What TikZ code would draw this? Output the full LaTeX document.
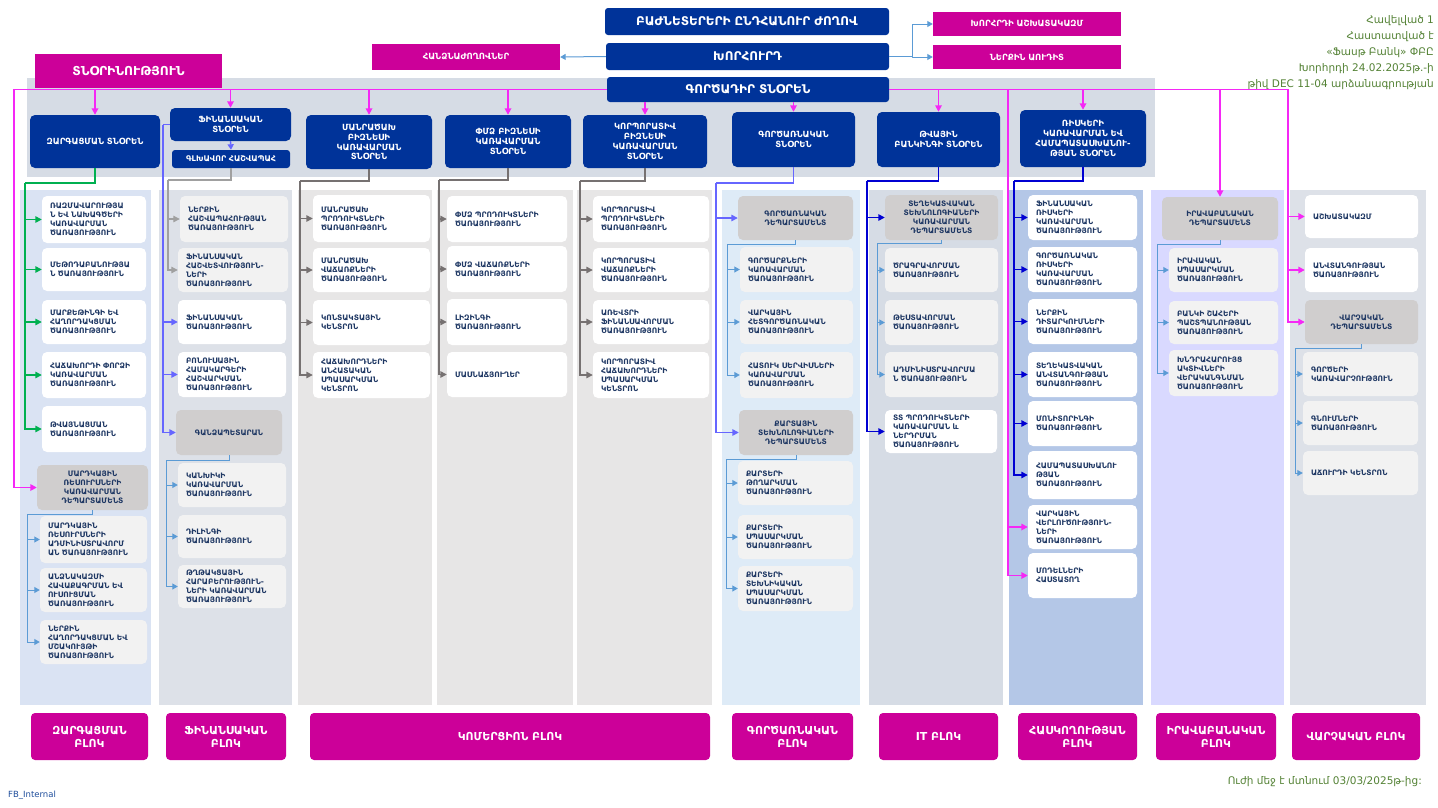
\documentclass[tikz,border=0pt]{standalone}
\usepackage{fontspec}
\setmainfont{DejaVu Sans}
\usetikzlibrary{arrows.meta}
\definecolor{navy}{RGB}{0,51,153}
\definecolor{mag}{RGB}{204,0,153}
\definecolor{mlinec}{RGB}{245,40,245}
\definecolor{glinec}{RGB}{0,176,80}
\definecolor{vlinec}{RGB}{102,102,255}
\definecolor{dblinec}{RGB}{0,0,210}
\definecolor{lblinec}{RGB}{91,155,213}
\definecolor{grlinec}{RGB}{118,113,113}
\definecolor{ltgrlinec}{RGB}{160,160,160}
\definecolor{txt}{RGB}{31,56,100}
\definecolor{deptfill}{RGB}{208,206,206}
\definecolor{lgfill}{RGB}{242,242,242}
\definecolor{band}{RGB}{214,220,229}
\definecolor{cbgA}{RGB}{218,227,243}
\definecolor{cbgB}{RGB}{221,225,232}
\definecolor{cbgC}{RGB}{231,230,230}
\definecolor{cbgD}{RGB}{222,235,247}
\definecolor{cbgE}{RGB}{214,220,229}
\definecolor{cbgF}{RGB}{180,199,231}
\definecolor{cbgG}{RGB}{217,217,255}
\definecolor{gtext}{RGB}{84,130,53}
\definecolor{fbblue}{RGB}{31,78,156}
\newcommand{\mkbox}[7][]{%
  \pgfmathsetmacro{\mkw}{#5-#3}%
  \pgfmathsetmacro{\mkh}{#6-#4}%
  \pgfmathsetmacro{\mktw}{#5-#3-16}%
  \node[#1, inner sep=0pt, minimum width=\mkw pt, minimum height=\mkh pt, text width=\mktw pt] (#2) at ({(#3+#5)/2},{(#4+#6)/2}) {#7};}
\tikzset{
  topbox/.style={fill=navy, rounded corners=3pt, text=white, align=center, font=\bfseries\fontsize{12}{14}\selectfont},
  magsm/.style={fill=mag, text=white, align=center, font=\bfseries\fontsize{8.5}{10}\selectfont},
  magbig/.style={fill=mag, text=white, align=center, font=\bfseries\fontsize{12.3}{14}\selectfont},
  dirbox/.style={fill=navy, rounded corners=5pt, text=white, align=center, font=\bfseries\fontsize{8.5}{9.8}\selectfont},
  subw/.style={fill=white, rounded corners=5pt, text=txt, align=left, font=\bfseries\fontsize{7.5}{9}\selectfont},
  subg/.style={subw, fill=lgfill},
  deptbox/.style={fill=deptfill, rounded corners=5pt, text=txt, align=center, font=\bfseries\fontsize{7.5}{9}\selectfont},
  blockbox/.style={fill=mag, rounded corners=4pt, text=white, align=center, font=\bfseries\fontsize{11}{13}\selectfont},
  tipbig/.style={-{Triangle[length=6.5pt,width=6.5pt]}},
  tipsm/.style={-{Triangle[length=5.5pt,width=6pt]}},
  lnmag/.style={draw=mlinec, line width=1.6pt},
  lngreen/.style={draw=glinec, line width=1.4pt},
  lnviolet/.style={draw=vlinec, line width=1.4pt},
  lndb/.style={draw=dblinec, line width=1.4pt},
  lnlb/.style={draw=lblinec, line width=1pt},
  lngray/.style={draw=grlinec, line width=1.4pt},
  lnltgray/.style={draw=ltgrlinec, line width=1.2pt},
}
\begin{document}
\begin{tikzpicture}[x=1pt,y=-1pt]
\useasboundingbox (0,0) rectangle (1438,807);
\fill[white] (0,0) rectangle (1438,807);
% backgrounds
\fill[band] (27,78) rectangle (1155,177);
\fill[cbgA] (20,190) rectangle (151,705);
\fill[cbgB] (159,190) rectangle (292,705);
\fill[cbgC] (298,190) rectangle (432,705);
\fill[cbgC] (437,190) rectangle (573,705);
\fill[cbgC] (577,190) rectangle (712,705);
\fill[cbgD] (722,190) rectangle (860,705);
\fill[cbgE] (869,190) rectangle (1003,705);
\fill[cbgF] (1009,190) rectangle (1143,705);
\fill[cbgG] (1151,190) rectangle (1284,705);
\fill[cbgB] (1290,190) rectangle (1426,705);

% top
\mkbox[topbox]{agm}{605}{8}{889}{35}{ԲԱԺՆԵՏԵՐԵՐԻ ԸՆԴՀԱՆՈՒՐ ԺՈՂՈՎ}
\mkbox[topbox]{board}{606}{43}{889}{70}{ԽՈՐՀՈՒՐԴ}
\mkbox[topbox]{ceo}{607}{77}{889}{102}{ԳՈՐԾԱԴԻՐ ՏՆՕՐԵՆ}
\mkbox[magsm]{comm}{372}{44}{560}{70}{ՀԱՆՁՆԱԺՈՂՈՎՆԵՐ}
\mkbox[magsm]{bstaff}{933}{12}{1121}{36}{ԽՈՐՀՐԴԻ ԱՇԽԱՏԱԿԱԶՄ}
\mkbox[magsm]{audit}{933}{45}{1121}{69}{ՆԵՐՔԻՆ ԱՈՒԴԻՏ}
\mkbox[magbig]{mgmt}{35}{54}{222}{88}{ՏՆՕՐԻՆՈՒԹՅՈՒՆ}

\node[anchor=north east, align=right, text=gtext, inner sep=0pt, font=\fontsize{10.5}{16}\selectfont] (approval) at (1434,15)
 {Հավելված 1\\Հաստատված է\\«Ֆասթ Բանկ» ՓԲԸ\\Խորհրդի 24.02.2025թ.-ի\\թիվ DEC 11-04 արձանագրության};
\node[anchor=east, text=gtext, inner sep=0pt, font=\fontsize{10.5}{12}\selectfont] (effective) at (1422,782) {Ուժի մեջ է մտնում 03/03/2025թ-ից:};
\node[anchor=west, text=fbblue, inner sep=0pt, font=\fontsize{8.5}{10}\selectfont] (fbint) at (8,795) {FB\_Internal};

% directorates
\mkbox[dirbox]{zdir}{30}{115}{160}{168}{ԶԱՐԳԱՑՄԱՆ ՏՆՕՐԵՆ}
\mkbox[dirbox]{fdir}{170}{108}{291}{141}{ՖԻՆԱՆՍԱԿԱՆ\\ՏՆՕՐԵՆ}
\mkbox[dirbox, rounded corners=3pt, font=\bfseries\fontsize{7.8}{9}\selectfont]{chacc}{172}{150}{290}{168}{ԳԼԽԱՎՈՐ ՀԱՇՎԱՊԱՀ}
\mkbox[dirbox]{rdir}{306}{115}{432}{169}{ՄԱՆՐԱԾԱԽ\\ԲԻԶՆԵՍԻ\\ԿԱՌԱՎԱՐՄԱՆ\\ՏՆՕՐԵՆ}
\mkbox[dirbox]{sdir}{445}{115}{571}{168}{ՓՄՁ ԲԻԶՆԵՍԻ\\ԿԱՌԱՎԱՐՄԱՆ\\ՏՆՕՐԵՆ}
\mkbox[dirbox]{cdir}{583}{115}{707}{168}{ԿՈՐՊՈՐԱՏԻՎ\\ԲԻԶՆԵՍԻ\\ԿԱՌԱՎԱՐՄԱՆ\\ՏՆՕՐԵՆ}
\mkbox[dirbox]{odir}{732}{112}{855}{167}{ԳՈՐԾԱՌՆԱԿԱՆ\\ՏՆՕՐԵՆ}
\mkbox[dirbox]{ddir}{877}{112}{1000}{167}{ԹՎԱՅԻՆ\\ԲԱՆԿԻՆԳԻ ՏՆՕՐԵՆ}
\mkbox[dirbox]{kdir}{1020}{110}{1146}{167}{ՌԻՍԿԵՐԻ\\ԿԱՌԱՎԱՐՄԱՆ ԵՎ\\ՀԱՄԱՊԱՏԱՍԽԱՆՈՒ-\\ԹՅԱՆ ՏՆՕՐԵՆ}

% column 1
\mkbox[subw]{z1}{42}{196}{146}{243}{ՌԱԶՄԱՎԱՐՈՒԹՅԱ\\Ն ԵՎ ՆԱԽԱԳԾԵՐԻ\\ԿԱՌԱՎԱՐՄԱՆ\\ԾԱՌԱՅՈՒԹՅՈՒՆ}
\mkbox[subw]{z2}{42}{248}{146}{291}{ՄԵԹՈԴԱԲԱՆՈՒԹՅԱ\\Ն ԾԱՌԱՅՈՒԹՅՈՒՆ}
\mkbox[subw]{z3}{42}{300}{146}{344}{ՄԱՐՔԵԹԻՆԳԻ ԵՎ\\ՀԱՂՈՐԴԱԿՑՄԱՆ\\ԾԱՌԱՅՈՒԹՅՈՒՆ}
\mkbox[subw]{z4}{42}{352}{146}{398}{ՀԱՃԱԽՈՐԴԻ ՓՈՐՁԻ\\ԿԱՌԱՎԱՐՄԱՆ\\ԾԱՌԱՅՈՒԹՅՈՒՆ}
\mkbox[subw]{z5}{42}{406}{146}{452}{ԹՎԱՅՆԱՑՄԱՆ\\ԾԱՌԱՅՈՒԹՅՈՒՆ}
\mkbox[deptbox]{hrd}{37}{465}{148}{510}{ՄԱՐԴԿԱՅԻՆ\\ՌԵՍՈՒՐՍՆԵՐԻ\\ԿԱՌԱՎԱՐՄԱՆ\\ԴԵՊԱՐՏԱՄԵՆՏ}
\mkbox[subg]{h1}{40}{516}{147}{563}{ՄԱՐԴԿԱՅԻՆ\\ՌԵՍՈՒՐՍՆԵՐԻ\\ԱԴՄԻՆԻՍՏՐԱՎՈՐՄ\\ԱՆ ԾԱՌԱՅՈՒԹՅՈՒՆ}
\mkbox[subg]{h2}{40}{568}{147}{612}{ԱՆՁՆԱԿԱԶՄԻ\\ՀԱՎԱՔԱԳՐՄԱՆ ԵՎ\\ՈՒՍՈՒՑՄԱՆ\\ԾԱՌԱՅՈՒԹՅՈՒՆ}
\mkbox[subg]{h3}{40}{620}{147}{664}{ՆԵՐՔԻՆ\\ՀԱՂՈՐԴԱԿՑՄԱՆ ԵՎ\\ՄՇԱԿՈՒՅԹԻ\\ԾԱՌԱՅՈՒԹՅՈՒՆ}

% column 2
\mkbox[subg]{f1}{180}{196}{288}{242}{ՆԵՐՔԻՆ\\ՀԱՇՎԱՊԱՀՈՒԹՅԱՆ\\ԾԱՌԱՅՈՒԹՅՈՒՆ}
\mkbox[subg]{f2}{178}{248}{288}{292}{ՖԻՆԱՆՍԱԿԱՆ\\ՀԱՇՎԵՏՎՈՒԹՅՈՒՆ-\\ՆԵՐԻ\\ԾԱՌԱՅՈՒԹՅՈՒՆ}
\mkbox[subw]{f3}{178}{300}{286}{344}{ՖԻՆԱՆՍԱԿԱՆ\\ԾԱՌԱՅՈՒԹՅՈՒՆ}
\mkbox[subw]{f4}{178}{352}{286}{397}{ԲՈՆՈՒՍԱՅԻՆ\\ՀԱՄԱԿԱՐԳԵՐԻ\\ՀԱՇՎԱՐԿՄԱՆ\\ԾԱՌԱՅՈՒԹՅՈՒՆ}
\mkbox[deptbox]{treas}{176}{410}{282}{455}{ԳԱՆՁԱՊԵՏԱՐԱՆ}
\mkbox[subg]{t1}{178}{463}{286}{507}{ԿԱՆԽԻԿԻ\\ԿԱՌԱՎԱՐՄԱՆ\\ԾԱՌԱՅՈՒԹՅՈՒՆ}
\mkbox[subg]{t2}{178}{515}{286}{558}{ԴԻԼԻՆԳԻ\\ԾԱՌԱՅՈՒԹՅՈՒՆ}
\mkbox[subg]{t3}{178}{565}{286}{608}{ԹՂԹԱԿՑԱՅԻՆ\\ՀԱՐԱԲԵՐՈՒԹՅՈՒՆ-\\ՆԵՐԻ ԿԱՌԱՎԱՐՄԱՆ\\ԾԱՌԱՅՈՒԹՅՈՒՆ}

% column 3
\mkbox[subw]{r1}{313}{195}{430}{242}{ՄԱՆՐԱԾԱԽ\\ՊՐՈԴՈՒԿՏՆԵՐԻ\\ԾԱՌԱՅՈՒԹՅՈՒՆ}
\mkbox[subw]{r2}{313}{248}{430}{292}{ՄԱՆՐԱԾԱԽ\\ՎԱՃԱՌՔՆԵՐԻ\\ԾԱՌԱՅՈՒԹՅՈՒՆ}
\mkbox[subw]{r3}{313}{300}{430}{345}{ԿՈՆՏԱԿՏԱՅԻՆ\\ԿԵՆՏՐՈՆ}
\mkbox[subw]{r4}{313}{352}{430}{398}{ՀԱՃԱԽՈՐԴՆԵՐԻ\\ԱՆՀԱՏԱԿԱՆ\\ՍՊԱՍԱՐԿՄԱՆ\\ԿԵՆՏՐՈՆ}

% column 4
\mkbox[subw]{s1}{447}{196}{567}{242}{ՓՄՁ ՊՐՈԴՈՒԿՏՆԵՐԻ\\ԾԱՌԱՅՈՒԹՅՈՒՆ}
\mkbox[subw]{s2}{447}{246}{567}{292}{ՓՄՁ ՎԱՃԱՌՔՆԵՐԻ\\ԾԱՌԱՅՈՒԹՅՈՒՆ}
\mkbox[subw]{s3}{447}{299}{567}{345}{ԼԻԶԻՆԳԻ\\ԾԱՌԱՅՈՒԹՅՈՒՆ}
\mkbox[subw]{s4}{447}{352}{567}{397}{ՄԱՍՆԱՃՅՈՒՂԵՐ}

% column 5
\mkbox[subw]{c1}{593}{196}{709}{242}{ԿՈՐՊՈՐԱՏԻՎ\\ՊՐՈԴՈՒԿՏՆԵՐԻ\\ԾԱՌԱՅՈՒԹՅՈՒՆ}
\mkbox[subw]{c2}{593}{248}{709}{292}{ԿՈՐՊՈՐԱՏԻՎ\\ՎԱՃԱՌՔՆԵՐԻ\\ԾԱՌԱՅՈՒԹՅՈՒՆ}
\mkbox[subw]{c3}{593}{300}{709}{344}{ԱՌԵՎՏՐԻ\\ՖԻՆԱՆՍԱՎՈՐՄԱՆ\\ԾԱՌԱՅՈՒԹՅՈՒՆ}
\mkbox[subw]{c4}{593}{352}{709}{398}{ԿՈՐՊՈՐԱՏԻՎ\\ՀԱՃԱԽՈՐԴՆԵՐԻ\\ՍՊԱՍԱՐԿՄԱՆ\\ԿԵՆՏՐՈՆ}

% column 6
\mkbox[deptbox]{opd}{738}{196}{853}{240}{ԳՈՐԾԱՌՆԱԿԱՆ\\ԴԵՊԱՐՏԱՄԵՆՏ}
\mkbox[subg]{o1}{740}{247}{853}{292}{ԳՈՐԾԱՐՔՆԵՐԻ\\ԿԱՌԱՎԱՐՄԱՆ\\ԾԱՌԱՅՈՒԹՅՈՒՆ}
\mkbox[subg]{o2}{740}{300}{853}{344}{ՎԱՐԿԱՅԻՆ\\ՀԵՏԳՈՐԾԱՌՆԱԿԱՆ\\ԾԱՌԱՅՈՒԹՅՈՒՆ}
\mkbox[subg]{o3}{740}{352}{853}{398}{ՀԱՏՈՒԿ ՍԵՐՎԻՍՆԵՐԻ\\ԿԱՌԱՎԱՐՄԱՆ\\ԾԱՌԱՅՈՒԹՅՈՒՆ}
\mkbox[deptbox]{card}{739}{410}{853}{455}{ՔԱՐՏԱՅԻՆ\\ՏԵԽՆՈԼՈԳԻԱՆԵՐԻ\\ԴԵՊԱՐՏԱՄԵՆՏ}
\mkbox[subg]{k1}{738}{461}{853}{505}{ՔԱՐՏԵՐԻ\\ԹՈՂԱՐԿՄԱՆ\\ԾԱՌԱՅՈՒԹՅՈՒՆ}
\mkbox[subg]{k2}{738}{515}{853}{559}{ՔԱՐՏԵՐԻ\\ՍՊԱՍԱՐԿՄԱՆ\\ԾԱՌԱՅՈՒԹՅՈՒՆ}
\mkbox[subg]{k3}{738}{566}{853}{611}{ՔԱՐՏԵՐԻ\\ՏԵԽՆԻԿԱԿԱՆ\\ՍՊԱՍԱՐԿՄԱՆ\\ԾԱՌԱՅՈՒԹՅՈՒՆ}

% column 7
\mkbox[deptbox]{itd}{885}{195}{998}{240}{ՏԵՂԵԿԱՏՎԱԿԱՆ\\ՏԵԽՆՈԼՈԳԻԱՆԵՐԻ\\ԿԱՌԱՎԱՐՄԱՆ\\ԴԵՊԱՐՏԱՄԵՆՏ}
\mkbox[subg]{i1}{885}{248}{998}{292}{ԾՐԱԳՐԱՎՈՐՄԱՆ\\ԾԱՌԱՅՈՒԹՅՈՒՆ}
\mkbox[subg]{i2}{885}{300}{998}{345}{ԹԵՍՏԱՎՈՐՄԱՆ\\ԾԱՌԱՅՈՒԹՅՈՒՆ}
\mkbox[subg]{i3}{885}{352}{998}{397}{ԱԴՄԻՆԻՍՏՐԱՎՈՐՄԱ\\Ն ԾԱՌԱՅՈՒԹՅՈՒՆ}
\mkbox[subw]{itp}{885}{410}{997}{453}{ՏՏ ՊՐՈԴՈՒԿՏՆԵՐԻ\\ԿԱՌԱՎԱՐՄԱՆ և\\ՆԵՐԴՐՄԱՆ\\ԾԱՌԱՅՈՒԹՅՈՒՆ}

% column 8
\mkbox[subw]{q1}{1028}{195}{1137}{240}{ՖԻՆԱՆՍԱԿԱՆ\\ՌԻՍԿԵՐԻ\\ԿԱՌԱՎԱՐՄԱՆ\\ԾԱՌԱՅՈՒԹՅՈՒՆ}
\mkbox[subw]{q2}{1028}{247}{1137}{292}{ԳՈՐԾԱՌՆԱԿԱՆ\\ՌԻՍԿԵՐԻ\\ԿԱՌԱՎԱՐՄԱՆ\\ԾԱՌԱՅՈՒԹՅՈՒՆ}
\mkbox[subw]{q3}{1028}{299}{1137}{344}{ՆԵՐՔԻՆ\\ԴԻՏԱՐԿՈՒՄՆԵՐԻ\\ԾԱՌԱՅՈՒԹՅՈՒՆ}
\mkbox[subw]{q4}{1028}{352}{1137}{397}{ՏԵՂԵԿԱՏՎԱԿԱՆ\\ԱՆՎՏԱՆԳՈՒԹՅԱՆ\\ԾԱՌԱՅՈՒԹՅՈՒՆ}
\mkbox[subw]{q5}{1028}{401}{1137}{446}{ՄՈՆԻՏՈՐԻՆԳԻ\\ԾԱՌԱՅՈՒԹՅՈՒՆ}
\mkbox[subw]{q6}{1028}{451}{1137}{499}{ՀԱՄԱՊԱՏԱՍԽԱՆՈՒ\\ԹՅԱՆ\\ԾԱՌԱՅՈՒԹՅՈՒՆ}
\mkbox[subw]{crd}{1028}{505}{1137}{549}{ՎԱՐԿԱՅԻՆ\\ՎԵՐԼՈՒԾՈՒԹՅՈՒՆ-\\ՆԵՐԻ\\ԾԱՌԱՅՈՒԹՅՈՒՆ}
\mkbox[subw]{mod}{1028}{553}{1137}{598}{ՄՈԴԵԼՆԵՐԻ\\ՀԱՍՏԱՏՈՂ}

% column 9
\mkbox[deptbox]{legal}{1162}{197}{1278}{240}{ԻՐԱՎԱԲԱՆԱԿԱՆ\\ԴԵՊԱՐՏԱՄԵՆՏ}
\mkbox[subg]{l1}{1169}{248}{1278}{292}{ԻՐԱՎԱԿԱՆ\\ՍՊԱՍԱՐԿՄԱՆ\\ԾԱՌԱՅՈՒԹՅՈՒՆ}
\mkbox[subg]{l2}{1169}{301}{1278}{344}{ԲԱՆԿԻ ՇԱՀԵՐԻ\\ՊԱՇՏՊԱՆՈՒԹՅԱՆ\\ԾԱՌԱՅՈՒԹՅՈՒՆ}
\mkbox[subg]{l3}{1169}{350}{1278}{396}{ԽՆԴՐԱՀԱՐՈՒՅՑ\\ԱԿՏԻՎՆԵՐԻ\\ՎԵՐԱԿԱՆԳՆՄԱՆ\\ԾԱՌԱՅՈՒԹՅՈՒՆ}

% column 10
\mkbox[subw]{ash}{1305}{195}{1418}{238}{ԱՇԽԱՏԱԿԱԶՄ}
\mkbox[subw]{sec}{1305}{248}{1418}{292}{ԱՆՎՏԱՆԳՈՒԹՅԱՆ\\ԾԱՌԱՅՈՒԹՅՈՒՆ}
\mkbox[deptbox]{adm}{1305}{300}{1418}{344}{ՎԱՐՉԱԿԱՆ\\ԴԵՊԱՐՏԱՄԵՆՏ}
\mkbox[subg]{v1}{1303}{352}{1418}{396}{ԳՈՐԾԵՐԻ\\ԿԱՌԱՎԱՐՉՈՒԹՅՈՒՆ}
\mkbox[subg]{v2}{1303}{401}{1418}{445}{ԳՆՈՒՄՆԵՐԻ\\ԾԱՌԱՅՈՒԹՅՈՒՆ}
\mkbox[subg]{v3}{1303}{451}{1418}{495}{ԱՃՈՒՐԴԻ ԿԵՆՏՐՈՆ}

% bottom blocks
\mkbox[blockbox]{bk1}{31}{713}{148}{760}{ԶԱՐԳԱՑՄԱՆ\\ԲԼՈԿ}
\mkbox[blockbox]{bk2}{166}{713}{286}{760}{ՖԻՆԱՆՍԱԿԱՆ\\ԲԼՈԿ}
\mkbox[blockbox]{bk3}{310}{713}{710}{760}{ԿՈՄԵՐՑԻՈՆ ԲԼՈԿ}
\mkbox[blockbox]{bk4}{732}{713}{853}{760}{ԳՈՐԾԱՌՆԱԿԱՆ\\ԲԼՈԿ}
\mkbox[blockbox]{bk5}{879}{713}{998}{760}{IT ԲԼՈԿ}
\mkbox[blockbox]{bk6}{1018}{713}{1137}{760}{ՀԱՍԿՈՂՈՒԹՅԱՆ\\ԲԼՈԿ}
\mkbox[blockbox]{bk7}{1156}{713}{1276}{760}{ԻՐԱՎԱԲԱՆԱԿԱՆ\\ԲԼՈԿ}
\mkbox[blockbox]{bk8}{1292}{713}{1420}{760}{ՎԱՐՉԱԿԱՆ ԲԼՈԿ}

% ---- connectors ----
% board
\draw[lnlb,tipsm] (board.west) -- (comm.east);
\coordinate (bj) at (912,56.5);
\draw[lnlb] (board.east) -- (bj);
\draw[lnlb,tipsm] (bj) |- (bstaff.west);
\draw[lnlb,tipsm] (bj) |- (audit.west);

% CEO magenta
\coordinate (mL) at (14,0);
\coordinate (mR) at (1288,0);
\coordinate (mM) at (1008,0);
\draw[lnmag,tipbig] (ceo.west) -- (mL |- ceo.west) |- (hrd.west);
\draw[lnmag,tipbig] (ceo.east) -- (mR |- ceo.east) |- (adm.west);
\draw[lnmag,tipbig] (mR |- ash.west) -- (ash.west);
\draw[lnmag,tipbig] (mR |- sec.west) -- (sec.west);
\draw[lnmag,tipbig] (mM |- ceo.east) |- (mod.west);
\draw[lnmag,tipbig] (mM |- crd.west) -- (crd.west);
\foreach \n in {zdir,fdir,rdir,sdir} \draw[lnmag,tipbig] (ceo.west -| \n.north) -- (\n.north);
\foreach \n in {cdir,odir} \draw[lnmag,tipbig] (ceo.south -| \n.north) -- (\n.north);
\foreach \n in {ddir,kdir,legal} \draw[lnmag,tipbig] (ceo.east -| \n.north) -- (\n.north);

% column 1
\coordinate (bA) at (25,183);
\draw[lngreen] (zdir.south) |- (bA);
\draw[lngreen,tipbig] (bA) |- (z5.west);
\foreach \n in {z1,z2,z3,z4} \draw[lngreen,tipbig] (bA |- \n.west) -- (\n.west);
\coordinate (bAh) at (27,514);
\draw[lnlb] (hrd.south) |- (bAh);
\draw[lnlb,tipsm] (bAh) |- (h3.west);
\foreach \n in {h1,h2} \draw[lnlb,tipsm] (bAh |- \n.west) -- (\n.west);

% column 2
\draw[lnviolet,tipsm] (fdir.south) -- (chacc.north);
\coordinate (bBv) at (163,0);
\draw[lnviolet] (fdir.west) -- (bBv |- fdir.west);
\draw[lnviolet,tipbig] (bBv |- fdir.west) |- (treas.west);
\foreach \n in {f3,f4} \draw[lnviolet,tipbig] (bBv |- \n.west) -- (\n.west);
\coordinate (bBg) at (168,180);
\draw[lnltgray] (chacc.south) |- (bBg);
\draw[lnltgray,tipbig] (bBg) |- (f2.west);
\draw[lnltgray,tipbig] (bBg |- f1.west) -- (f1.west);
\coordinate (bBt) at (166,460);
\draw[lnlb] (treas.south) |- (bBt);
\draw[lnlb,tipsm] (bBt) |- (t3.west);
\foreach \n in {t1,t2} \draw[lnlb,tipsm] (bBt |- \n.west) -- (\n.west);

% column 3
\coordinate (bC) at (300,181);
\draw[lngray] (rdir.south) |- (bC);
\draw[lngray,tipbig] (bC) |- (r4.west);
\foreach \n in {r1,r2,r3} \draw[lngray,tipbig] (bC |- \n.west) -- (\n.west);

% column 4
\coordinate (bD) at (439,180);
\draw[lngray] (sdir.south) |- (bD);
\draw[lngray,tipbig] (bD) |- (s4.west);
\foreach \n in {s1,s2,s3} \draw[lngray,tipbig] (bD |- \n.west) -- (\n.west);

% column 5
\coordinate (bE) at (580,181);
\draw[lngray] (cdir.south) |- (bE);
\draw[lngray,tipbig] (bE) |- (c4.west);
\foreach \n in {c1,c2,c3} \draw[lngray,tipbig] (bE |- \n.west) -- (\n.west);

% column 6
\coordinate (bF) at (716,183);
\draw[lnviolet] (odir.south) |- (bF);
\draw[lnviolet,tipbig] (bF) |- (card.west);
\draw[lnviolet,tipbig] (bF |- opd.west) -- (opd.west);
\coordinate (bFo) at (727,244);
\draw[lnlb] (opd.south) |- (bFo);
\draw[lnlb,tipsm] (bFo) |- (o3.west);
\foreach \n in {o1,o2} \draw[lnlb,tipsm] (bFo |- \n.west) -- (\n.west);
\coordinate (bFk) at (726,459);
\draw[lnlb] (card.south) |- (bFk);
\draw[lnlb,tipsm] (bFk) |- (k3.west);
\foreach \n in {k1,k2} \draw[lnlb,tipsm] (bFk |- \n.west) -- (\n.west);

% column 7
\coordinate (bG) at (867,181);
\draw[lndb] (ddir.south) |- (bG);
\draw[lndb,tipbig] (bG) |- (itp.west);
\draw[lndb,tipbig] (bG |- itd.west) -- (itd.west);
\coordinate (bGi) at (877,243);
\draw[lnlb] (itd.south) |- (bGi);
\draw[lnlb,tipsm] (bGi) |- (i3.west);
\foreach \n in {i1,i2} \draw[lnlb,tipsm] (bGi |- \n.west) -- (\n.west);

% column 8
\coordinate (bH) at (1014,181);
\draw[lndb] (kdir.south) |- (bH);
\draw[lndb,tipbig] (bH) |- (q6.west);
\foreach \n in {q1,q2,q3,q4,q5} \draw[lndb,tipbig] (bH |- \n.west) -- (\n.west);

% column 9
\coordinate (bI) at (1157,244);
\draw[lnlb] (legal.south) |- (bI);
\draw[lnlb,tipsm] (bI) |- (l3.west);
\foreach \n in {l1,l2} \draw[lnlb,tipsm] (bI |- \n.west) -- (\n.west);

% column 10
\coordinate (bJ) at (1295,348);
\draw[lnlb] (adm.south) |- (bJ);
\draw[lnlb,tipsm] (bJ) |- (v3.west);
\foreach \n in {v1,v2} \draw[lnlb,tipsm] (bJ |- \n.west) -- (\n.west);
\end{tikzpicture}
\end{document}
